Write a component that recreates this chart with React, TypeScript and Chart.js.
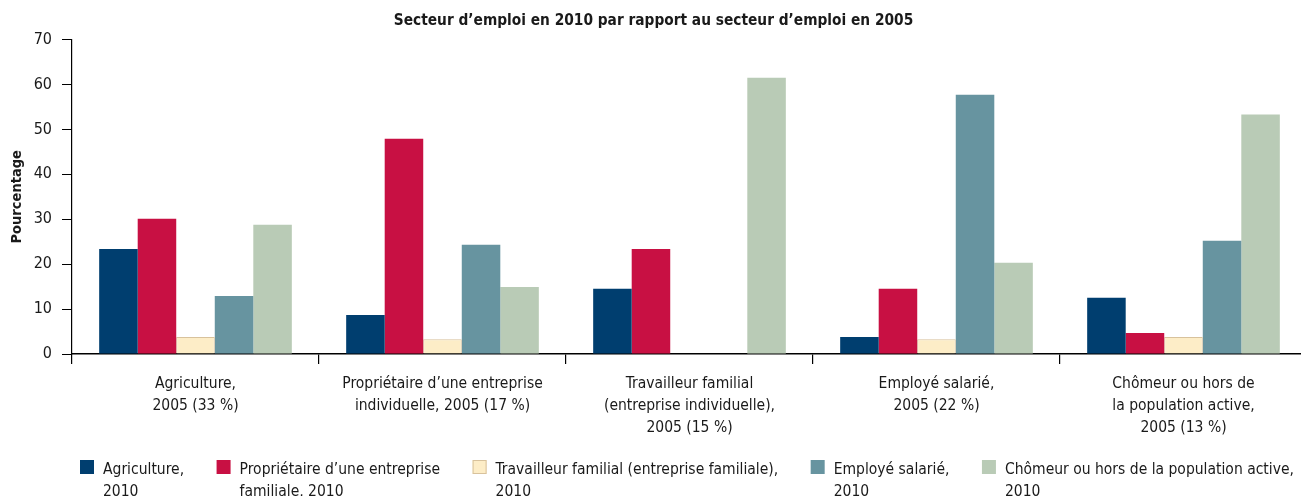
import React, { useEffect, useRef } from "react";
import { Chart, registerables } from "chart.js";

Chart.register(...registerables);

const TITLE = "Secteur d\u2019emploi en 2010 par rapport au secteur d\u2019emploi en 2005";
const Y_TITLE = "Pourcentage";

const categories: string[][] = [
  ["Agriculture,", "2005 (33 %)"],
  ["Propri\u00e9taire d\u2019une entreprise", "individuelle, 2005 (17 %)"],
  ["Travailleur familial", "(entreprise individuelle),", "2005 (15 %)"],
  ["Employ\u00e9 salari\u00e9,", "2005 (22 %)"],
  ["Ch\u00f4meur ou hors de", "la population active,", "2005 (13 %)"],
];

const seriesLabels: string[][] = [
  ["Agriculture,", "2010"],
  ["Propri\u00e9taire d\u2019une entreprise", "familiale, 2010"],
  ["Travailleur familial (entreprise familiale),", "2010"],
  ["Employ\u00e9 salari\u00e9,", "2010"],
  ["Ch\u00f4meur ou hors de la population active,", "2010"],
];

const agriculture2010 = [23.4, 8.7, 14.5, 3.8, 12.5];
const proprietaire2010 = [30.1, 47.9, 23.4, 14.5, 4.7];
const travailleur2010 = [3.8, 3.3, 0, 3.3, 3.8];
const employe2010 = [12.9, 24.3, 0, 57.7, 25.2];
const chomeur2010 = [28.8, 14.9, 61.5, 20.3, 53.3];

const yTicks = [0, 10, 20, 30, 40, 50, 60, 70];

const colors = ["#003e6f", "#c81043", "#fdedc7", "#6794a0", "#b9cbb6"];
const borderColors = ["#003e6f", "#c81043", "#d8c29c", "#6794a0", "#b9cbb6"];

const FONT = "'DejaVu Sans Condensed', 'DejaVu Sans', sans-serif";

const legendPlugin = {
  id: "multiLineLegend",
  afterDraw(chart: any) {
    const ctx = chart.ctx as CanvasRenderingContext2D;
    ctx.save();
    ctx.font = `15.5px ${FONT}`;
    ctx.textBaseline = "alphabetic";
    ctx.textAlign = "left";
    let x = 80;
    const boxTop = 460;
    chart.data.datasets.forEach((ds: any, i: number) => {
      const lines: string[] = seriesLabels[i];
      ctx.fillStyle = ds.backgroundColor;
      ctx.fillRect(x, boxTop, 14, 14);
      if (ds.borderWidth) {
        ctx.strokeStyle = ds.borderColor;
        ctx.lineWidth = 1;
        ctx.strokeRect(x + 0.5, boxTop + 0.5, 13, 13);
      }
      ctx.fillStyle = "#1a1a1a";
      lines.forEach((ln, j) => ctx.fillText(ln, x + 23, 474 + j * 22));
      const w = ctx.measureText(lines[0]).width;
      x += 23 + w + 32.5;
    });
    ctx.restore();
  },
};

export default function App() {
  const ref = useRef<HTMLCanvasElement>(null);
  useEffect(() => {
    const series = [agriculture2010, proprietaire2010, travailleur2010, employe2010, chomeur2010];
    const chart = new Chart(ref.current!, {
      type: "bar",
      data: {
        labels: categories,
        datasets: series.map((d, i) => ({
          label: seriesLabels[i].join(" "),
          data: d,
          backgroundColor: colors[i],
          borderColor: borderColors[i],
          borderWidth: i === 2 ? 1 : 0,
          categoryPercentage: 0.78,
          barPercentage: 1,
        })),
      },
      options: {
        responsive: false,
        animation: false,
        events: [],
        layout: { padding: 0 },
        plugins: {
          legend: { display: false },
          tooltip: { enabled: false },
          title: {
            display: true,
            text: TITLE,
            color: "#1a1a1a",
            font: { family: FONT, size: 15.3, weight: "bold", lineHeight: 1.2 },
            padding: { top: 12, bottom: 9.2 },
          },
        },
        scales: {
          x: {
            grid: {
              offset: true,
              drawOnChartArea: false,
              drawTicks: true,
              tickLength: 10,
              color: "#000",
              lineWidth: 1.2,
            },
            border: { display: true, color: "#000", width: 1.6 },
            ticks: {
              color: "#1a1a1a",
              font: { family: FONT, size: 15.5, lineHeight: 1.42 },
              padding: 9,
              maxRotation: 0,
              autoSkip: false,
            },
            afterFit(scale: any) {
              scale.height = 142;
            },
          },
          y: {
            min: 0,
            max: 70,
            afterBuildTicks(scale: any) {
              scale.ticks = yTicks.map((v) => ({ value: v }));
            },
            grid: {
              drawOnChartArea: false,
              drawTicks: true,
              tickLength: 10,
              color: "#000",
              lineWidth: 1,
            },
            border: { display: true, color: "#000", width: 1.2 },
            ticks: {
              color: "#1a1a1a",
              font: { family: FONT, size: 16 },
              padding: 10,
            },
            title: {
              display: true,
              text: Y_TITLE,
              color: "#1a1a1a",
              font: { family: FONT, size: 14.5, weight: "bold", lineHeight: 1.2 },
              padding: { top: 9, bottom: 0 },
            },
            afterFit(scale: any) {
              scale.width = 72;
            },
          },
        },
      },
      plugins: [legendPlugin],
    });
    return () => chart.destroy();
  }, []);
  return (
    <div
      style={{
        position: "fixed",
        left: 0,
        top: 0,
        width: 1301,
        height: 496,
        overflow: "hidden",
        background: "#fff",
      }}
    >
      <canvas ref={ref} width={1307} height={496} style={{ display: "block" }} />
    </div>
  );
}
